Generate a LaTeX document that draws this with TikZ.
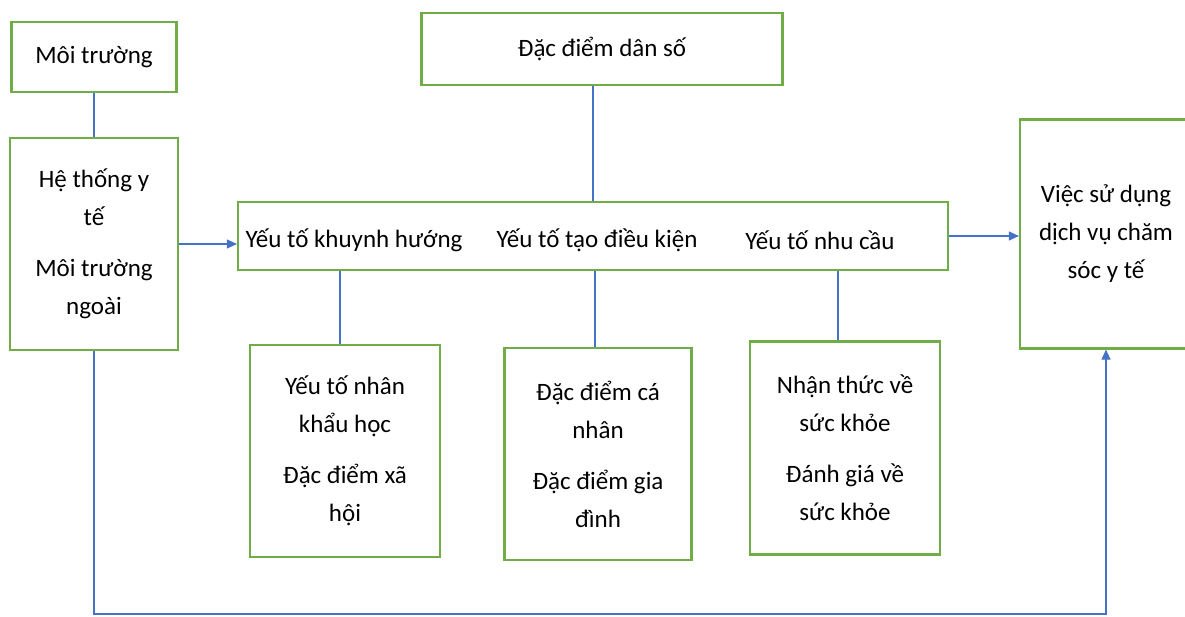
\documentclass[tikz,border=0pt]{standalone}
\usepackage{fontspec}
\setmainfont{Carlito}
\usetikzlibrary{arrows.meta}

\begin{document}
\begin{tikzpicture}[x=1pt,y=-1pt,
    box/.style={draw=boxgreen, line width=2.2pt, fill=white, align=center,
      inner sep=0pt, font=\fontsize{25}{30}\selectfont},
    label/.style={inner sep=0pt, font=\fontsize{25}{30}\selectfont},
    link/.style={draw=linkblue, line width=1.1pt},
    arrow/.style={link, -{Triangle[length=10pt,width=9pt]}}
  ]
  \definecolor{boxgreen}{RGB}{112,173,71}
  \definecolor{linkblue}{RGB}{68,114,196}
  \useasboundingbox (0,0) rectangle (1185,617);
  \coordinate (base) at (0,614);

  % Left column
  \node[box, minimum width=165pt, minimum height=70pt] (env) at (94,57) {Môi trường};
  \node[box, minimum width=168pt, minimum height=212pt] (hts) at (94,244)
    {Hệ thống y\\[8pt] tế\\[21pt] Môi trường\\[8pt] ngoài};
  %
  % Top
  \node[box, minimum width=361pt, minimum height=72pt] (pop) at (602,49) {Đặc điểm dân số};
  %
  % Middle row
  \node[box, minimum width=710pt, minimum height=68pt] (mid) at (593,236) {};
  \node[label] (pred) at (354,240) {Yếu tố khuynh hướng};
  \node[label] (enab) at (597,240) {Yếu tố tạo điều kiện};
  \node[label] (need) at (820,240) {Yếu tố nhu cầu};
  %
  % Right
  \node[box, minimum width=172pt, minimum height=229pt] (use) at (1106,234)
    {Việc sử dụng\\[8pt] dịch vụ chăm\\[8pt] sóc y tế};
  %
  % Bottom row
  \node[box, minimum width=190pt, minimum height=212pt] (demo) at (345,451)
    {Yếu tố nhân\\[8pt] khẩu học\\[21pt] Đặc điểm xã\\[8pt] hội};
  \node[box, minimum width=187pt, minimum height=212pt] (indiv) at (598,454)
    {Đặc điểm cá\\[8pt] nhân\\[21pt] Đặc điểm gia\\[8pt] đình};
  \node[box, minimum width=190pt, minimum height=213pt] (health) at (845,448)
    {Nhận thức về\\[8pt] sức khỏe\\[21pt] Đánh giá về\\[8pt] sức khỏe};

  % Connectors
  \draw[link] (env.south) -- (hts.north);
  \draw[link] (pop.south -| mid.north) -- (mid.north);
  \draw[link] (340,0 |- mid.south) coordinate (d1) -- (d1 |- demo.north);
  \draw[link] (595,0 |- mid.south) coordinate (d2) -- (d2 |- indiv.north);
  \draw[link] (838,0 |- mid.south) coordinate (d3) -- (d3 |- health.north);
  \draw[arrow] (hts.east) -- (hts.east -| mid.west);
  \draw[arrow] (mid.east) -- (mid.east -| use.west);
  \draw[arrow] (hts.south) -- (hts.south |- base) -| (use.south);
\end{tikzpicture}
\end{document}
